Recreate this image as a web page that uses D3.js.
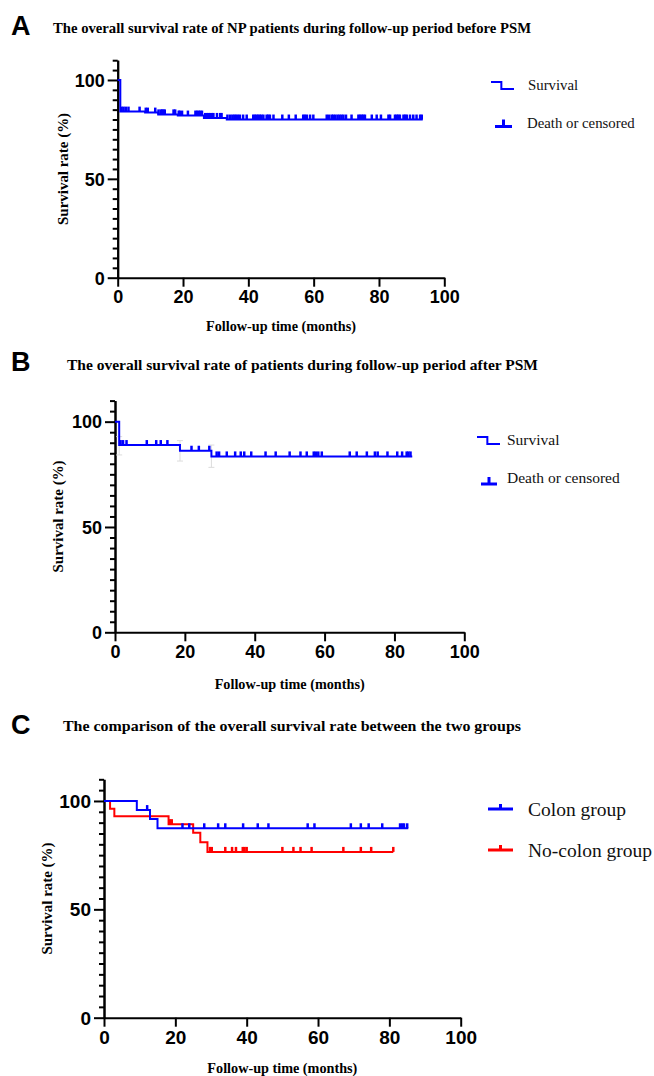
<!DOCTYPE html>
<html>
<head>
<meta charset="utf-8">
<script src="https://cdn.jsdelivr.net/npm/d3@7/dist/d3.min.js"></script>
<style>
  html, body { margin: 0; padding: 0; background: #fff; }
  svg { display: block; }
</style>
</head>
<body>
<svg id="chart" width="654" height="1076"></svg>
<script>
// ---- data ----
const xTicks = [0, 20, 40, 60, 80, 100];
const yMajor = [0, 50, 100];
const yMinor = d3.range(0, 111, 5).filter(v => v % 50 !== 0);

// A: NP patients before PSM
const aEventTimes = [0.8, 8.4, 12.4, 18.4, 26.4, 33.4];
const aEventSurv  = [84, 83.5, 82.6, 82, 80.8, 80];
const aLastTime = 93.4;
const aCensor = [1.2, 1.8, 2.5, 3.3, 6.7, 8.6, 9.2, 11.5, 12.5, 13.2, 13.6, 14, 14.4, 17.1, 17.6, 18.7, 19, 19.7,
  21.5, 23.8, 24.3, 24.8, 25.3, 25.8, 26.8, 27.3, 27.8, 28.3, 28.8, 29.3, 30.4, 31.4, 31.8, 33.6, 34.4, 35.1,
  35.7, 36.2, 36.8, 37.4, 38.4, 39.5, 41.5, 42, 42.5, 43, 43.5, 44, 44.6, 45.6, 46.1, 46.6, 47.7, 50.4, 52.4,
  54.5, 56.8, 57.3, 57.9, 58.9, 59.9, 64, 64.7, 65.5, 66, 66.6, 67.3, 67.9, 68.5, 69.1, 69.9, 71.6, 73.7, 74.2,
  74.7, 75.2, 75.7, 77.8, 79.3, 80.6, 82.9, 83.4, 84.9, 85.4, 85.9, 86.4, 87.5, 88, 88.5, 89.5, 90.5, 91.5, 92.6, 93.1];

// B: patients after PSM
const bEventTimes = [1.2, 18.6, 27.6];
const bEventSurv  = [88.9, 86.2, 83.5];
const bCiLow  = [84.2, 81.3, 78.3];
const bCiHigh = [92.9, 91.0, 88.9];
const bLastTime = 85.1;
const bCensor = [1.6, 2.3, 3.3, 9.1, 11.8, 13.1, 15, 21.9, 24, 27, 29.1, 29.8, 32, 34.4, 36, 37, 39, 43.1, 46,
  50, 53.1, 54.9, 56.9, 57.5, 58.2, 59.2, 67.2, 69.2, 72.1, 74.4, 75.2, 78, 80.8, 82.2, 83.5, 84, 84.6];

// C: colon vs no-colon
const colonEventTimes = [9.2, 12.9, 15];
const colonEventSurv  = [95.8, 91.7, 87.4];
const colonLastTime = 85.3;
const colonCensor = [12.1, 22, 23.9, 28.1, 32, 34, 39, 43.1, 46.1, 57.1, 59, 69.2, 72, 74.2, 78, 83, 83.6, 84.1, 85];

const noColonEventTimes = [1.7, 2.9, 18.1, 25, 27, 29];
const noColonEventSurv  = [96.4, 92.9, 89.3, 85.3, 81, 76.5];
const noColonLastTime = 81.1;
const noColonCensor = [18.5, 19, 29.7, 30.2, 34, 35.9, 37, 38.9, 39.4, 40, 50, 53.1, 55.1, 58.2, 67.1, 72, 74.9, 81.1];

const titles = [
  "The overall survival rate of NP patients during follow-up period before PSM",
  "The overall survival rate of patients during follow-up period after PSM",
  "The comparison of the overall survival rate between the two groups"
];
const panelLetters = ["A", "B", "C"];
const legendA = ["Survival", "Death or censored"];
const legendC = ["Colon group", "No-colon group"];

// ---- drawing ----
const svg = d3.select('#chart');
svg.append('rect').attr('width', 654).attr('height', 1076).attr('fill', '#fff');

const SERIF = '"Liberation Serif", "Times New Roman", serif';
const SANS = '"Liberation Sans", Arial, sans-serif';
const BLUE = '#0000ff', RED = '#ff0000';

function survAt(times, surv, t){
  const i = d3.bisectRight(times, t);
  return i === 0 ? 100 : surv[i-1];
}
function stepPoints(times, surv, last){
  return [[0,100], ...times.map((t,i)=>[t, surv[i]]), [last, surv[surv.length-1]]];
}

function drawAxes(p){
  const x = d3.scaleLinear().domain([0,100]).range([p.x0, p.x1]);
  const y = d3.scaleLinear().domain([0,110]).range([p.y0, p.yTop]);
  const g = svg.append('g');

  const yMin = g.append('g').attr('transform', `translate(${p.x0},0)`)
    .call(d3.axisLeft(y).tickValues(yMinor).tickSize(5).tickSizeOuter(0).tickFormat(''));
  const yAx = g.append('g').attr('transform', `translate(${p.x0},0)`)
    .call(d3.axisLeft(y).tickValues(yMajor).tickSize(10).tickPadding(3).tickSizeOuter(0));
  const xAx = g.append('g').attr('transform', `translate(0,${p.y0})`)
    .call(d3.axisBottom(x).tickValues(xTicks).tickSize(9).tickPadding(4).tickSizeOuter(0));

  [yMin, yAx, xAx].forEach(a=>{
    a.selectAll('path,line').attr('stroke','#000').attr('stroke-width',2);
    a.selectAll('text').attr('font-family', SANS).attr('font-weight','bold')
      .attr('font-size', p.tickFont).attr('fill','#000');
  });
  yAx.selectAll('text').attr('dy','0.35em');

  svg.append('text')
    .attr('transform', `translate(${p.yLabX},${(p.y0+p.yTop)/2}) rotate(-90)`)
    .attr('text-anchor','middle').attr('font-family', SERIF).attr('font-weight','bold')
    .attr('font-size', 15).attr('textLength', 112).attr('lengthAdjust','spacingAndGlyphs')
    .text('Survival rate (%)');
  svg.append('text')
    .attr('x', (p.x0+p.x1)/2).attr('y', p.xLabY)
    .attr('text-anchor','middle').attr('font-family', SERIF).attr('font-weight','bold')
    .attr('font-size', 15).attr('textLength', 150).attr('lengthAdjust','spacingAndGlyphs')
    .text('Follow-up time (months)');
  return {x, y};
}

function drawCurve(sc, times, surv, last, censor, color){
  const line = d3.line().x(d=>sc.x(d[0])).y(d=>sc.y(d[1])).curve(d3.curveStepAfter);
  svg.append('path').datum(stepPoints(times, surv, last))
    .attr('d', line).attr('fill','none').attr('stroke', color).attr('stroke-width', 2);
  svg.append('g').selectAll('line').data(censor).join('line')
    .attr('x1', d=>sc.x(d)).attr('x2', d=>sc.x(d))
    .attr('y1', d=>sc.y(survAt(times, surv, d)))
    .attr('y2', d=>sc.y(survAt(times, surv, d)) - 5)
    .attr('stroke', color).attr('stroke-width', 2.5);
}

function drawTitle(letter, title, lx, ly, tx, ty, tw){
  svg.append('text').attr('x', lx).attr('y', ly).attr('font-family', SANS).attr('font-weight','bold')
    .attr('font-size', 27).text(letter);
  svg.append('text').attr('x', tx).attr('y', ty).attr('font-family', SERIF).attr('font-weight','bold')
    .attr('font-size', 15.5).attr('textLength', tw).attr('lengthAdjust','spacingAndGlyphs').text(title);
}

function survivalSymbol(x, y, w, h){
  svg.append('path').attr('d', `M${x},${y}H${x+w*0.45}V${y+h}H${x+w}`)
    .attr('fill','none').attr('stroke', BLUE).attr('stroke-width', 2);
}
function censorSymbol(x, y, w, h, color, sw){
  svg.append('path').attr('d', `M${x},${y}H${x+w}M${x+w/2},${y}V${y-h}`)
    .attr('fill','none').attr('stroke', color).attr('stroke-width', sw);
}
function legendText(x, y, txt, size){
  svg.append('text').attr('x', x).attr('y', y).attr('font-family', SERIF)
    .attr('font-size', size).attr('fill','#111').text(txt);
}

// Panel A
drawTitle(panelLetters[0], titles[0], 11, 35, 53, 33, 478);
const sA = drawAxes({x0:117.7, x1:444.3, y0:277.7, yTop:60.2, tickFont:18, yLabX:68, xLabY:331});
drawCurve(sA, aEventTimes, aEventSurv, aLastTime, aCensor, BLUE);
survivalSymbol(491, 82, 23, 7);
legendText(528, 90, legendA[0], 14.8);
censorSymbol(495, 126.5, 17, 7, BLUE, 3);
legendText(527, 128, legendA[1], 14.8);

// Panel B
drawTitle(panelLetters[1], titles[1], 11, 371, 67, 370, 471);
const sB = drawAxes({x0:115, x1:464.3, y0:632.3, yTop:400.6, tickFont:18, yLabX:62.5, xLabY:689});
// light grey CI bars at the drops
const ciG = svg.append('g').attr('stroke','#dcdcdc').attr('stroke-width',1);
bEventTimes.forEach((t,i)=>{
  const cx = sB.x(t);
  ciG.append('line').attr('x1',cx).attr('x2',cx).attr('y1',sB.y(bCiLow[i])).attr('y2',sB.y(bCiHigh[i]));
  [bCiLow[i], bCiHigh[i]].forEach(v=>ciG.append('line').attr('x1',cx-3).attr('x2',cx+3)
    .attr('y1',sB.y(v)).attr('y2',sB.y(v)));
});
drawCurve(sB, bEventTimes, bEventSurv, bLastTime, bCensor, BLUE);
survivalSymbol(477, 437, 23, 7);
legendText(507, 445, legendA[0], 15.5);
censorSymbol(481, 484, 16, 7, BLUE, 3);
legendText(507, 483, legendA[1], 15.5);

// Panel C
drawTitle(panelLetters[2], titles[2], 11, 734, 63, 731, 458);
const sC = drawAxes({x0:104, x1:460.7, y0:1017.7, yTop:779.3, tickFont:19, yLabX:51.5, xLabY:1073});
drawCurve(sC, noColonEventTimes, noColonEventSurv, noColonLastTime, noColonCensor, RED);
drawCurve(sC, colonEventTimes, colonEventSurv, colonLastTime, colonCensor, BLUE);
censorSymbol(488, 809, 25, 5, BLUE, 3);
legendText(528, 816, legendC[0], 19.5);
censorSymbol(488, 850, 25, 5, RED, 3);
legendText(528, 857, legendC[1], 19.5);
</script>
</body>
</html>
